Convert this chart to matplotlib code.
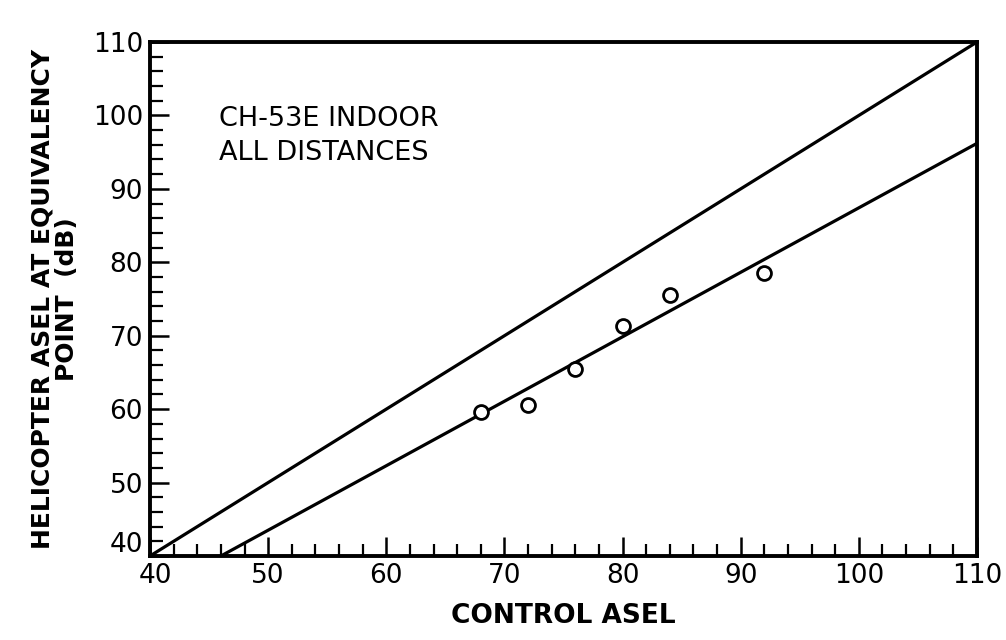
import matplotlib
matplotlib.use("Agg")
import matplotlib.pyplot as plt
import numpy as np
from matplotlib.ticker import MultipleLocator
from matplotlib.transforms import ScaledTranslation

control_asel = [68, 72, 76, 80, 84, 92]
heli_asel = [59.6, 60.5, 65.4, 71.3, 75.5, 78.5]

equal_x = [40, 110]
equal_y = [40, 110]
fit_x = [46, 110]
fit_y = [40, 96.2]

ticks = [40, 50, 60, 70, 80, 90, 100, 110]
tick_labels = ["40", "50", "60", "70", "80", "90", "100", "110"]

plt.rcParams['font.family'] = ['DejaVu Sans']

fig = plt.figure(figsize=(10.06, 6.4), dpi=100)
ax = fig.add_axes([150/1006, 1-556/640, 827/1006, 514/640])

ax.plot(equal_x, equal_y, color='black', lw=2.3, solid_capstyle='butt', clip_on=False)
ax.plot(fit_x, fit_y, color='black', lw=2.3, solid_capstyle='butt')
ax.plot(control_asel, heli_asel, 'o', ms=10, mfc='white', mec='black', mew=2, zorder=5)

ax.set_xlim(40, 110)
ax.set_ylim(40, 110)
for s in ax.spines.values():
    s.set_linewidth(2.8)

ax.set_xticks(ticks)
ax.set_xticklabels(tick_labels)
ax.set_yticks(ticks)
ax.set_yticklabels(tick_labels)
ax.xaxis.set_minor_locator(MultipleLocator(2))
ax.yaxis.set_minor_locator(MultipleLocator(2))
ax.tick_params(which='major', direction='in', length=14, width=1.8, labelsize=19, pad=5)
ax.tick_params(which='minor', direction='in', length=9, width=1.6)
ax.tick_params(top=False, right=False, which='both')

# corner labels nudged apart, as in the reference
ylab0 = ax.get_yticklabels()[0]
ylab0.set_transform(ylab0.get_transform() + ScaledTranslation(0, 10/72, fig.dpi_scale_trans))
xlab0 = ax.get_xticklabels()[0]
xlab0.set_transform(xlab0.get_transform() + ScaledTranslation(4/72, 0, fig.dpi_scale_trans))

ax.text(45.8, 97.2, "CH-53E INDOOR\nALL DISTANCES", fontsize=19.5, va='center', ha='left',
        linespacing=1.4)

ax.set_xlabel("CONTROL ASEL", fontsize=19, fontweight='bold', labelpad=10)
ax.set_ylabel("HELICOPTER ASEL AT EQUIVALENCY\nPOINT  (dB)", fontsize=18, fontweight='bold',
              labelpad=10, linespacing=1.0)

fig.savefig("out.png", dpi=100)
